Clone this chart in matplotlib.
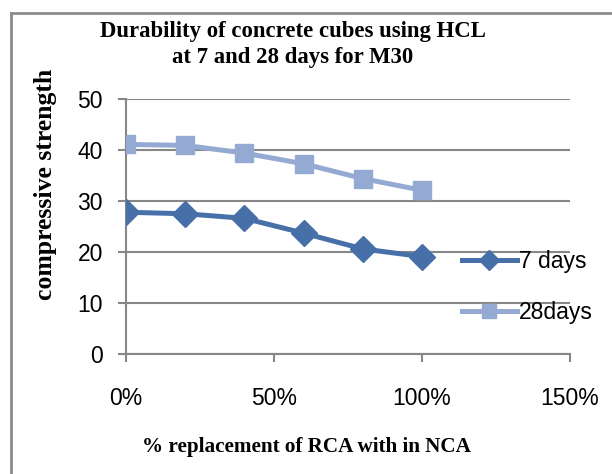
import matplotlib
matplotlib.use("Agg")
import matplotlib.pyplot as plt
from matplotlib.lines import Line2D

replacement = [0, 20, 40, 60, 80, 100]
days7 = [27.8, 27.5, 26.6, 23.7, 20.6, 19.1]
days28 = [41.1, 40.9, 39.4, 37.3, 34.4, 32.1]
series_names = ["7 days", "28days"]
xticks = [0, 50, 100, 150]
xtick_labels = ["0%", "50%", "100%", "150%"]
yticks = [0, 10, 20, 30, 40, 50]
title_lines = ["Durability of concrete cubes using HCL", "at 7 and 28 days for M30"]

c7 = "#4770A8"
c28 = "#94AAD3"
grid_c = "#878787"
sans = ["Liberation Sans", "DejaVu Sans"]
serif = "Liberation Serif"

fig = plt.figure(figsize=(6.12, 4.74), dpi=100)
ax = fig.add_axes([126/612, 1-354/474, (570-126)/612, (354-99)/474])

ax.plot(replacement, days7, color=c7, lw=3.6, marker="D", ms=13, label=series_names[0], zorder=3)
ax.plot(replacement, days28, color=c28, lw=3.6, marker="s", ms=13.5, label=series_names[1], zorder=3)

ax.set_xlim(0, 150)
ax.set_ylim(0, 50)
ax.set_xticks(xticks)
ax.set_xticklabels(xtick_labels)
ax.set_yticks(yticks)
for s in ["top", "right"]:
    ax.spines[s].set_visible(False)
for s in ["left", "bottom"]:
    ax.spines[s].set_color(grid_c)
    ax.spines[s].set_linewidth(1.5)
ax.yaxis.grid(True, color=grid_c, lw=1.5)
ax.set_axisbelow(True)
ax.tick_params(axis="both", colors=grid_c, length=5.5, width=1.5, direction="out")
ax.tick_params(axis="y", labelcolor="black", labelsize=16.5, pad=11)
ax.tick_params(axis="x", labelcolor="black", labelsize=16.5, pad=18)
for lab in ax.get_xticklabels() + ax.get_yticklabels():
    lab.set_family(sans)

fig.text(293/612, 1-31/474, title_lines[0], ha="center", va="center",
         fontsize=16.4, fontweight="bold", family=serif)
fig.text(293/612, 1-57/474, title_lines[1], ha="center", va="center",
         fontsize=16.4, fontweight="bold", family=serif)
fig.text(306/612, 1-447/474, "% replacement of RCA with in NCA", ha="center", va="center",
         fontsize=15.2, fontweight="bold", family=serif)
fig.text(46/612, 1-184/474, "compressive strength", ha="center", va="center", rotation=90,
         fontsize=18.5, fontweight="bold", family=serif)

leg = ax.legend(loc="center left", bbox_to_anchor=(441/612, 1-287/474), bbox_transform=fig.transFigure,
                frameon=False, handlelength=2.4, handletextpad=0.12, labelspacing=1.2, markerscale=0.75,
                prop={"family": sans, "size": 16.5})

# outer frame lines
fig.add_artist(Line2D([11/612, 11/612], [0, 1-13/474], color="#8c8c8c", lw=2, transform=fig.transFigure))
fig.add_artist(Line2D([11/612, 1], [1-13/474, 1-13/474], color="#8c8c8c", lw=2, transform=fig.transFigure))

fig.savefig("out.png", dpi=100)
